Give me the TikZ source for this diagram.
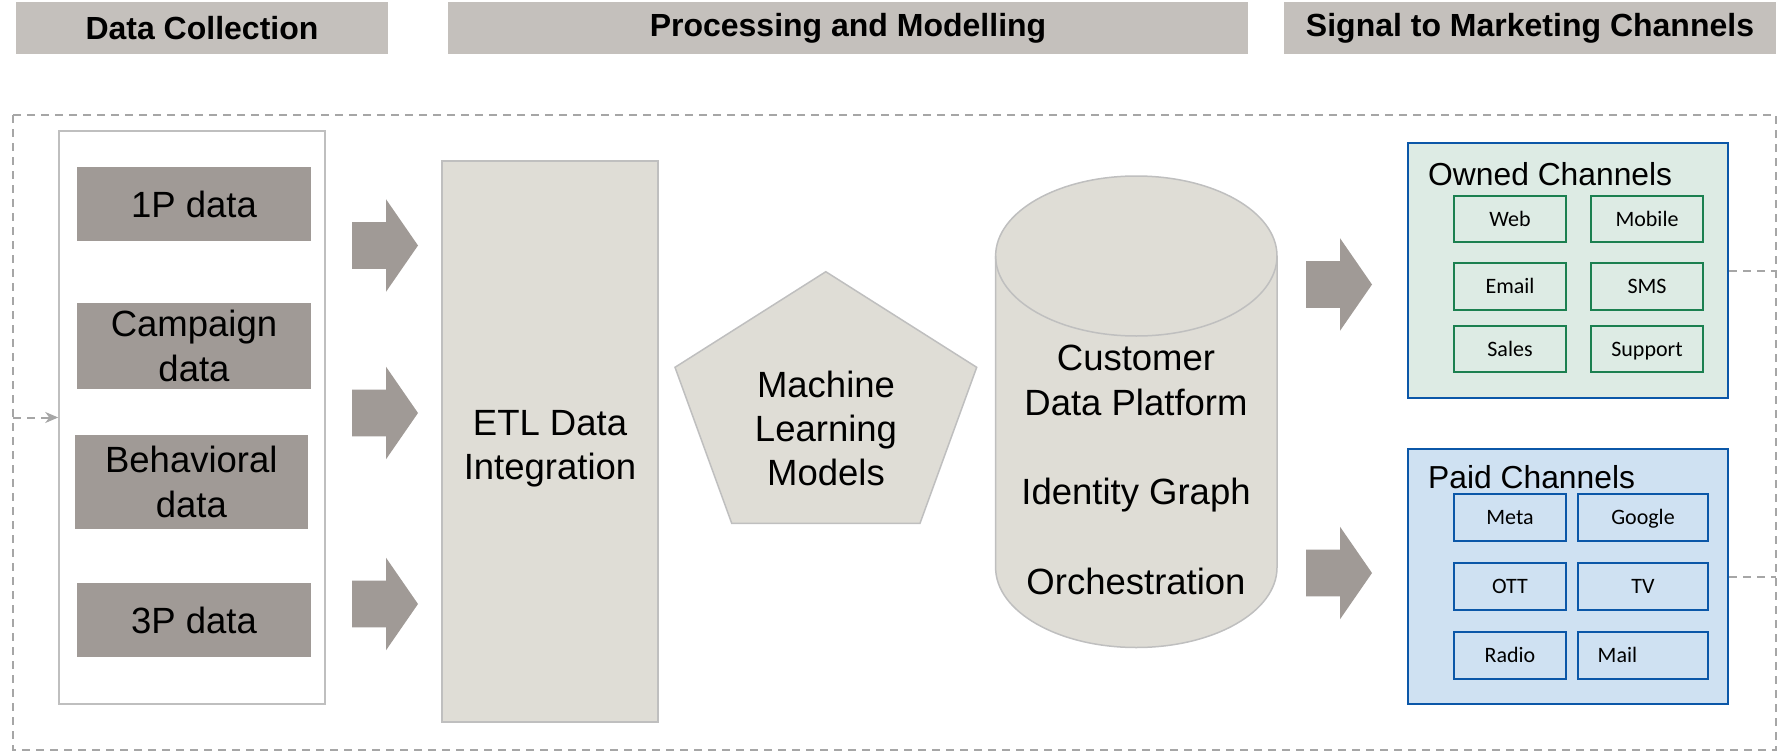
\documentclass[tikz,border=0pt]{standalone}
\usepackage{fontspec}
\setmainfont{Liberation Sans}
\newfontfamily\labelfont{Carlito}
\usetikzlibrary{arrows.meta}
\definecolor{hdrgray}{HTML}{C4C0BC}
\definecolor{dgray}{HTML}{A09A96}
\definecolor{procfill}{HTML}{DFDDD6}
\definecolor{procline}{HTML}{BFBFBF}
\definecolor{loopgray}{HTML}{A6A6A6}
\definecolor{ownfill}{HTML}{DDEBE4}
\definecolor{ownline}{HTML}{1B8050}
\definecolor{blueline}{HTML}{0B57A8}
\definecolor{paidfill}{HTML}{CFE1F2}
\begin{document}
\begin{tikzpicture}[x=1pt,y=-1pt,
  hdr/.style={fill=hdrgray, inner sep=0pt, minimum height=52pt, font=\fontsize{32}{38}\selectfont\bfseries},
  databox/.style={fill=dgray, inner sep=0pt, minimum width=234pt, align=center, font=\fontsize{36.5}{45}\selectfont},
  proc/.style={fill=procfill, draw=procline, line width=1.5pt},
  bigtext/.style={align=center, inner sep=0pt, font=\fontsize{36.5}{44}\selectfont},
  blockarrow/.pic={\fill[dgray] (0,-23.3) -- (34,-23.3) -- (34,-46.3) -- (66,0) -- (34,46.3) -- (34,23.3) -- (0,23.3) -- cycle;},
  loopline/.style={draw=loopgray, line width=2pt, dash pattern=on 8pt off 6pt},
  group/.style={line width=2pt, draw=blueline, inner sep=0pt, minimum width=320.6pt, minimum height=254.5pt},
  cell/.style={line width=2pt, inner sep=0pt, minimum width=112pt, minimum height=46.6pt, text height=14pt, text depth=0pt, font=\labelfont\fontsize{22}{26}\selectfont},
  owncell/.style={cell, draw=ownline, fill=ownfill},
  paidcell/.style={cell, draw=blueline, fill=paidfill},
  grouplbl/.style={anchor=base west, inner sep=0pt, font=\fontsize{31.8}{38}\selectfont}]
\useasboundingbox (0,0) rectangle (1778,752);
% headers
\node[hdr, minimum width=372pt] (h1) at (202,28) {Data Collection};
\node[hdr, minimum width=800pt] (h2) at (848,28) {Processing and Modelling};
\node[hdr, minimum width=492pt] (h3) at (1530,28) {Signal to Marketing Channels};
% feedback loop
\coordinate (tl) at (13,115);
\coordinate (br) at (1776,750);
\draw[loopline] (tl) rectangle (br);
% white box with data
\node[draw=procline, line width=1.5pt, minimum width=266pt, minimum height=573pt, inner sep=0pt] (wbox) at (192,417.5) {};
\draw[loopline, -{Stealth[length=13pt,width=11pt,inset=4pt]}] (wbox.west -| tl) -- (wbox.west);
\node[databox, minimum height=74pt] (d1) at (194,204) {1P data};
\node[databox, minimum height=86pt] (d2) at (194,345.7) {Campaign\\data};
\node[databox, minimum width=232.7pt, minimum height=93.7pt] (d3) at (191.3,482) {Behavioral\\data};
\node[databox, minimum height=73.7pt] (d4) at (194,620) {3P data};
% arrows into ETL
\pic (a1) at (352,245.5) {blockarrow};
\pic (a2) at (352,413) {blockarrow};
\pic (a3) at (352,604) {blockarrow};
% ETL
\node[proc, minimum width=216pt, minimum height=561pt, inner sep=0pt] (etlbox) at (550,441.5) {};
\node[bigtext] (etl) at (550,448.5) {ETL Data\\Integration};
% pentagon
\coordinate (p1) at (825.8,271.7);
\coordinate (p2) at (976.7,367.3);
\coordinate (p3) at (920,523.3);
\coordinate (p4) at (731.7,523.3);
\coordinate (p5) at (675,367.3);
\filldraw[proc] (p1) -- (p2) -- (p3) -- (p4) -- (p5) -- cycle;
\node[bigtext] (ml) at (826,428) {Machine\\Learning\\Models};
% cylinder
\coordinate (cl) at (995.6,256);
\coordinate (cr) at (1277,256);
\coordinate (cbl) at (995.6,567.5);
\filldraw[proc] (cl) -- (cbl) arc[start angle=180, end angle=360, x radius=140.7pt, y radius=80pt] -- (cr) arc[start angle=0, end angle=180, x radius=140.7pt, y radius=80pt] -- cycle;
\draw[draw=procline, line width=1.5pt] (cl) arc[start angle=180, end angle=360, x radius=140.7pt, y radius=80pt];
\node[bigtext, font=\fontsize{36.5}{44.8}\selectfont] (cdp) at (1136,470) {Customer\\Data Platform\\[44.8pt]Identity Graph\\[44.8pt]Orchestration};
% arrows to channels
\pic (a4) at (1306,284.5) {blockarrow};
\pic (a5) at (1306,573) {blockarrow};
% owned channels
\node[group, fill=ownfill] (owned) at (1568,270.5) {};
\node[grouplbl] (ownedlbl) at (1428,185) {Owned Channels};
\node[owncell] (web) at (1510,219) {Web};
\node[owncell, minimum width=112.6pt] (mobile) at (1647,219) {Mobile};
\node[owncell] (email) at (1510,286.7) {Email};
\node[owncell, minimum width=112.6pt] (sms) at (1647,286.7) {SMS};
\node[owncell] (sales) at (1510,349) {Sales};
\node[owncell, minimum width=112.6pt] (support) at (1647,349) {Support};
% paid channels
\node[group, fill=paidfill] (paid) at (1568,576.7) {};
\node[grouplbl] (paidlbl) at (1428,488.3) {Paid Channels};
\node[paidcell] (meta) at (1510,517.3) {Meta};
\node[paidcell, minimum width=130.6pt] (google) at (1643,517.3) {Google};
\node[paidcell] (ott) at (1510,586.3) {OTT};
\node[paidcell, minimum width=130.6pt] (tv) at (1643,586.3) {TV};
\node[paidcell] (radio) at (1510,655.3) {Radio};
\node[paidcell, minimum width=130.6pt, text width=90.6pt, inner xsep=20pt, align=left] (mail) at (1643,655.3) {Mail};
% loop stubs
\draw[loopline] (owned.east) -- (owned.east -| br);
\draw[loopline] (paid.east) -- (paid.east -| br);
\end{tikzpicture}
\end{document}
